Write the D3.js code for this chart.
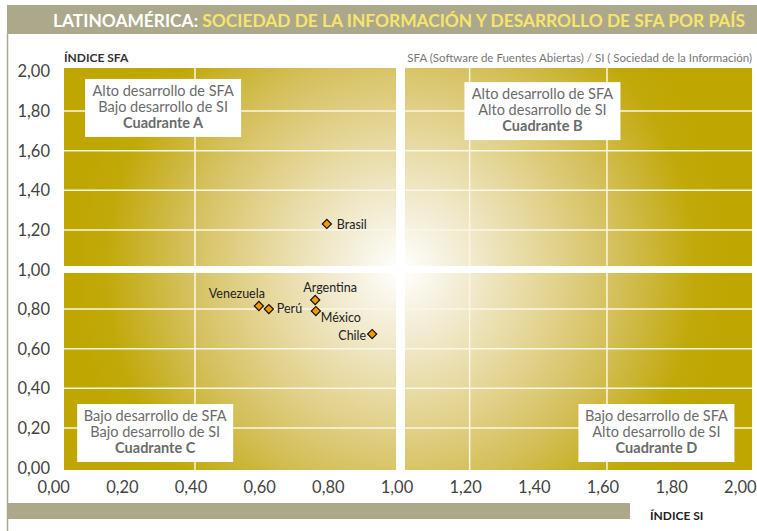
<!DOCTYPE html>
<html>
<head>
<meta charset="utf-8">
<script src="https://cdn.jsdelivr.net/npm/d3@7"></script>
<style>
  body { margin: 0; background: #fff; }
  svg { display: block; font-family: "Lato", "Open Sans", sans-serif; }
</style>
</head>
<body>
<div id="chart"></div>
<script>
const width = 757, height = 531;

// data
const countries = ["Brasil", "Argentina", "México", "Venezuela", "Perú", "Chile"];
const indiceSI  = [0.784, 0.75, 0.752, 0.586, 0.615, 0.916];
const indiceSFA = [1.23, 0.846, 0.79, 0.816, 0.80, 0.674];
const ticks = [0, 0.2, 0.4, 0.6, 0.8, 1.0, 1.2, 1.4, 1.6, 1.8, 2.0];
const gridX = [0.4, 1.2, 1.6];
const gridY = [0.2, 0.4, 0.6, 0.8, 1.2, 1.4, 1.6, 1.8];

const quadrants = [
  {x: 0.307, y: 1.856, lines: ["Alto desarrollo de SFA", "Bajo desarrollo de SI"], name: "Cuadrante A"},
  {x: 1.412, y: 1.84, lines: ["Alto desarrollo de SFA", "Alto desarrollo de SI"], name: "Cuadrante B"},
  {x: 0.284, y: 0.215, lines: ["Bajo desarrollo de SFA", "Bajo desarrollo de SI"], name: "Cuadrante C"},
  {x: 1.744, y: 0.215, lines: ["Bajo desarrollo de SFA", "Alto desarrollo de SI"], name: "Cuadrante D"}
];

// label placement per country: dx, dy, anchor
const labelPos = {
  "Brasil":    [10, 5, "start"],
  "Argentina": [15, -8, "middle"],
  "México":    [5, 11, "start"],
  "Venezuela": [6, -8, "end"],
  "Perú":      [8, 4, "start"],
  "Chile":     [-6, 6, "end"]
};

const fmt = d => d3.format(".2f")(d).replace(".", ",");

const x = d3.scaleLinear().domain([0, 2]).range([57.7, 744.3]);
const y = d3.scaleLinear().domain([0, 2]).range([467.6, 71.4]);

const svg = d3.select("#chart").append("svg")
    .attr("width", width)
    .attr("height", height);

// frame bits
svg.append("rect").attr("x", 7).attr("y", 5).attr("width", width - 7).attr("height", 29)
    .attr("fill", "#aca88b");
svg.append("line").attr("x1", 7.5).attr("x2", 7.5).attr("y1", 34).attr("y2", height)
    .attr("stroke", "#aca88b").attr("stroke-width", 1.5);
svg.append("rect").attr("x", 7).attr("y", 503).attr("width", 623).attr("height", 16)
    .attr("fill", "#aca88b");

const title = svg.append("text").attr("x", 53).attr("y", 26.5)
    .attr("font-size", 16.5).attr("font-weight", "bold")
    .attr("textLength", 692).attr("lengthAdjust", "spacingAndGlyphs");
title.append("tspan").attr("fill", "#ffffff").text("LATINOAMÉRICA: ");
title.append("tspan").attr("fill", "#f7e46c").text("SOCIEDAD DE LA INFORMACIÓN Y DESARROLLO  DE SFA POR PAÍS");

// gradient background
const defs = svg.append("defs");
const grad = defs.append("radialGradient").attr("id", "bg")
    .attr("gradientUnits", "userSpaceOnUse")
    .attr("cx", x(1)).attr("cy", y(1)).attr("r", 335);
[[0, "#ffffff"], [0.2, "#f2ebd0"], [0.45, "#e3d390"], [0.65, "#d4bf5a"], [0.88, "#c1a90a"], [1, "#bfa600"]]
  .forEach(s => grad.append("stop").attr("offset", s[0]).attr("stop-color", s[1]));

svg.append("rect").attr("x", 64).attr("y", 68).attr("width", 752 - 64).attr("height", 470 - 68)
    .attr("fill", "url(#bg)");

const grid = svg.append("g").attr("class", "grid");
grid.selectAll("line.gx").data(gridX).enter().append("line")
    .attr("x1", d => x(d)).attr("x2", d => x(d)).attr("y1", 68).attr("y2", 470)
    .attr("stroke", "#fbf6e6").attr("stroke-width", 1.5);
grid.selectAll("line.gy").data(gridY).enter().append("line")
    .attr("x1", 64).attr("x2", 752).attr("y1", d => y(d)).attr("y2", d => y(d))
    .attr("stroke", "#fbf6e6").attr("stroke-width", 1.5);
grid.append("line").attr("x1", 64).attr("x2", 752).attr("y1", y(1)).attr("y2", y(1))
    .attr("stroke", "#ffffff").attr("stroke-width", 7);
grid.append("line").attr("x1", x(1) - 0.5).attr("x2", x(1) - 0.5).attr("y1", 68).attr("y2", 470)
    .attr("stroke", "#ffffff").attr("stroke-width", 9);

// quadrant boxes
const q = svg.append("g").selectAll("g").data(quadrants).enter().append("g")
    .attr("transform", d => "translate(" + x(d.x) + "," + y(d.y) + ")");
q.append("rect").attr("x", -78).attr("y", -21).attr("width", 156).attr("height", 58)
    .attr("fill", "#ffffff");
q.each(function (d) {
  const g = d3.select(this);
  d.lines.forEach((l, i) => {
    g.append("text").attr("text-anchor", "middle").attr("y", -4 + i * 16)
        .attr("font-size", 14.5).attr("fill", "#6b6b6b").text(l);
  });
  g.append("text").attr("text-anchor", "middle").attr("y", 28)
      .attr("font-size", 14.5).attr("font-weight", "bold").attr("fill", "#6b6b6b").text(d.name);
});

// axes labels
svg.append("g").selectAll("text").data(ticks).enter().append("text")
    .attr("x", 50).attr("y", d => y(d) + 6)
    .attr("text-anchor", "end").attr("font-size", 16.5).attr("fill", "#444")
    .text(fmt);
svg.append("g").selectAll("text").data(ticks).enter().append("text")
    .attr("x", d => x(d) - 4).attr("y", 493)
    .attr("text-anchor", "middle").attr("font-size", 16.5).attr("fill", "#444")
    .text(fmt);

svg.append("text").attr("x", 64).attr("y", 62).attr("font-size", 12).attr("font-weight", "bold")
    .attr("fill", "#333").text("ÍNDICE SFA");
svg.append("text").attr("x", 752).attr("y", 62).attr("text-anchor", "end").attr("font-size", 11.5)
    .attr("fill", "#777").text("SFA (Software de Fuentes Abiertas) / SI ( Sociedad de la Información)");
svg.append("text").attr("x", 650).attr("y", 520).attr("font-size", 12).attr("font-weight", "bold")
    .attr("fill", "#222").text("ÍNDICE SI");

// points
const pts = svg.append("g").selectAll("g").data(countries).enter().append("g")
    .attr("transform", (d, i) => "translate(" + x(indiceSI[i]) + "," + y(indiceSFA[i]) + ")");
pts.append("path")
    .attr("d", d3.symbol().type(d3.symbolSquare).size(42))
    .attr("transform", "rotate(45)")
    .attr("fill", "#f39a00").attr("stroke", "#111").attr("stroke-width", 1.2);
pts.append("text")
    .attr("x", d => labelPos[d][0]).attr("y", d => labelPos[d][1])
    .attr("text-anchor", d => labelPos[d][2])
    .attr("font-size", 12.5).attr("fill", "#222")
    .text(d => d);
</script>
</body>
</html>
